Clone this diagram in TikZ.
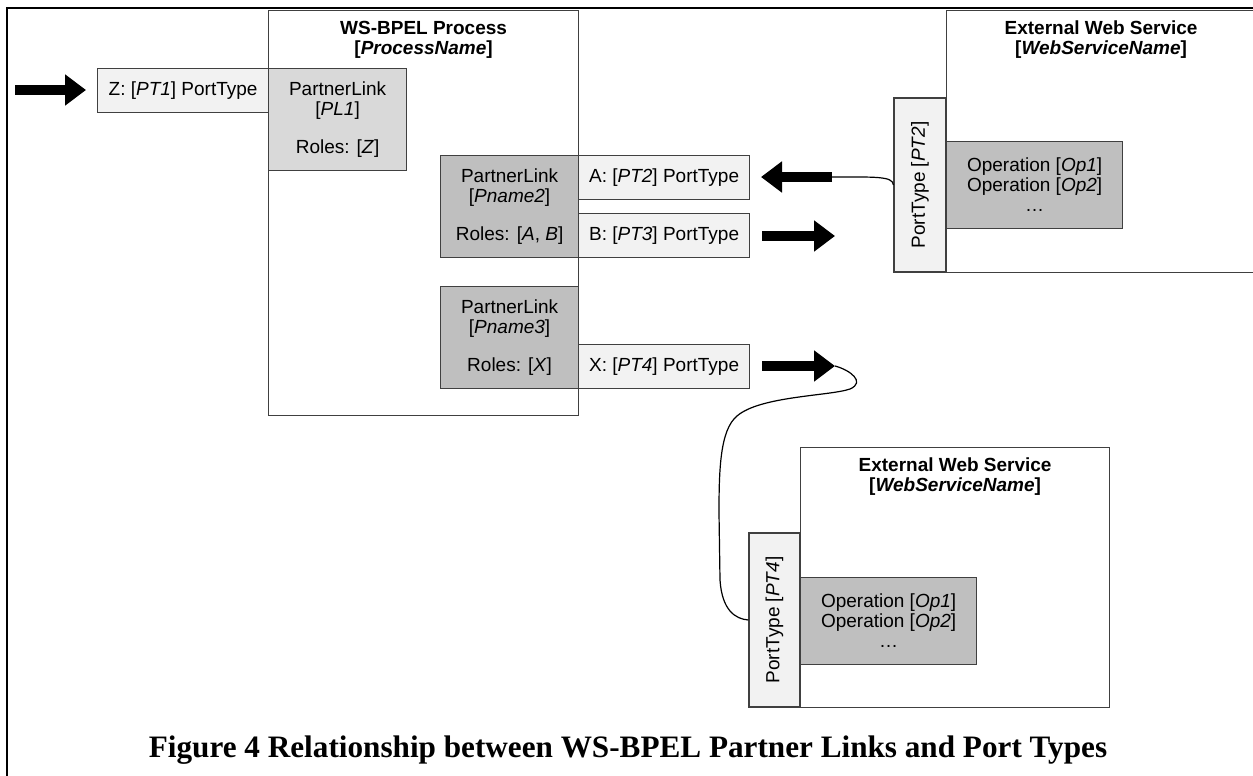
\documentclass[tikz,border=0pt]{standalone}
\usepackage{fontspec}
\setsansfont{Liberation Sans}
\newfontfamily\captionserif{Liberation Serif}
\usepackage{tikz}
\usetikzlibrary{arrows.meta}
\definecolor{portgray}{HTML}{F2F2F2}
\definecolor{linkgray}{HTML}{D9D9D9}
\definecolor{opgray}{HTML}{BFBFBF}
\definecolor{edgegray}{HTML}{404040}

\begin{document}
\begin{tikzpicture}[x=0.5pt, y=-0.5pt,
    every node/.style={font=\sffamily\fontsize{9.5}{10}\selectfont, inner sep=0pt},
    plainbox/.style={draw=edgegray, line width=0.6pt, anchor=north west},
    portbox/.style={plainbox, fill=portgray, minimum width=85.5pt, minimum height=22pt},
    linkbox/.style={plainbox, fill=linkgray, minimum width=69pt, minimum height=51pt, align=center},
    opbox/.style={plainbox, fill=opgray, minimum width=88pt, minimum height=43.5pt, align=center},
    boxtitle/.style={font=\sffamily\bfseries\fontsize{9.5}{10}\selectfont, align=center, anchor=north},
    bigarrow/.style={line width=5pt, -{Triangle[length=10.5pt,width=15pt]}},
    wire/.style={line width=0.6pt}]
    \useasboundingbox (0,0) rectangle (1253,776);
    \draw[line width=1.2pt] (7,776) -- (7,8) -- (1253,8);

    \node[plainbox, minimum width=155pt, minimum height=202.5pt] (proc) at (268,10) {};
    \node[boxtitle, yshift=-5.5pt] (procTitle) at (proc.north) {WS-BPEL Process\\{[}\textit{ProcessName}]};
    \node[portbox] (ptZ) at (97,68) {Z: [\textit{PT1}] PortType};
    \node[linkbox] (plOne) at (268,68) {PartnerLink\\{[}\textit{PL1}]\\[9pt]Roles: [\textit{Z}]};
    \node[linkbox, fill=opgray] (plTwo) at (440,155) {PartnerLink\\{[}\textit{Pname2}]\\[9pt]Roles: [\textit{A}, \textit{B}]};
    \node[portbox] (ptA) at (578,155) {A: [\textit{PT2}] PortType};
    \node[portbox] (ptB) at (578,213) {B: [\textit{PT3}] PortType};
    \node[linkbox, fill=opgray] (plThree) at (440,286) {PartnerLink\\{[}\textit{Pname3}]\\[9pt]Roles: [\textit{X}]};
    \node[portbox] (ptX) at (578,344) {X: [\textit{PT4}] PortType};

    \node[plainbox, minimum width=154.5pt, minimum height=131pt] (wsOne) at (946,10) {};
    \node[boxtitle, yshift=-5pt] (wsOneTitle) at (wsOne.north) {External Web Service\\{[}\textit{WebServiceName}]};
    \node[plainbox, fill=portgray, rotate=90, anchor=center, minimum width=87pt, minimum height=26pt] (ptTwo) at (920,185) {PortType [\textit{PT2}]};
    \node[opbox] (opOne) at (946,141) {Operation [\textit{Op1}]\\Operation [\textit{Op2}]\\\dots};

    \node[plainbox, minimum width=154.5pt, minimum height=130pt] (wsTwo) at (800,447) {};
    \node[boxtitle, yshift=-5pt] (wsTwoTitle) at (wsTwo.north) {External Web Service\\{[}\textit{WebServiceName}]};
    \node[plainbox, fill=portgray, rotate=90, anchor=center, minimum width=87pt, minimum height=25.5pt] (ptFour) at (774.5,620) {PortType [\textit{PT4}]};
    \node[opbox] (opTwo) at (800,577) {Operation [\textit{Op1}]\\Operation [\textit{Op2}]\\\dots};

    \coordinate (zTail) at (15,90);
    \coordinate (zTip) at (86,90);
    \coordinate (aTail) at (832,177);
    \coordinate (aTip) at (761,177);
    \coordinate (bTail) at (762,236);
    \coordinate (bTip) at (835,236);
    \coordinate (xTail) at (762,366);
    \coordinate (xTip) at (835,366);
    \draw[bigarrow] (zTail) -- (zTip);
    \draw[bigarrow] (aTail) -- (aTip);
    \draw[bigarrow] (bTail) -- (bTip);
    \draw[bigarrow] (xTail) -- (xTip);
    \draw[wire] (ptTwo.north) .. controls (893,176) and (875,177) .. (aTail);
    \draw[wire] (xTip) .. controls (850,370) and (866,382) .. (850,389) .. controls (830,396) and (760,396) .. (737,416) .. controls (720,430) and (719,470) .. (719,513) -- (720,580) .. controls (722,610) and (735,619) .. (ptFour.north);

    \node[font=\captionserif\bfseries\fontsize{15.6}{18}\selectfont, anchor=base] (caption) at (628,757) {Figure 4 Relationship between WS-BPEL Partner Links and Port Types};
\end{tikzpicture}
\end{document}
